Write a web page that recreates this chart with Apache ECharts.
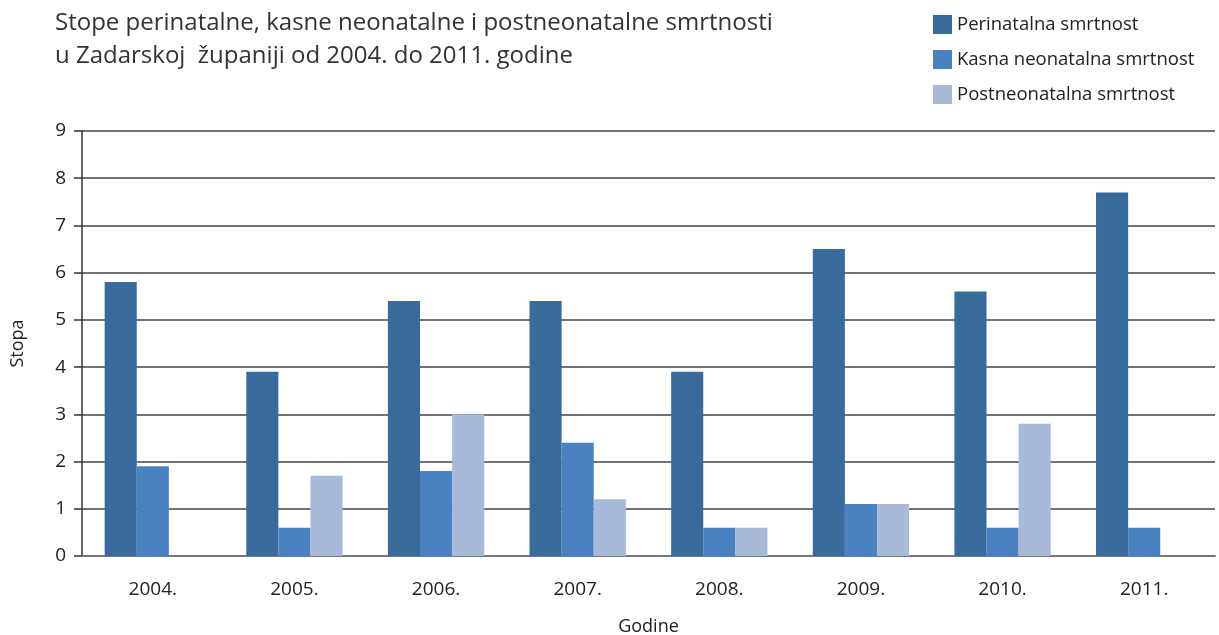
<!DOCTYPE html>
<html>
<head>
<meta charset="utf-8">
<script src="https://cdn.jsdelivr.net/npm/echarts@6/dist/echarts.min.js"></script>
<style>
  html, body { margin: 0; padding: 0; background: #fff; }
  #chart { width: 1219px; height: 635px; }
</style>
</head>
<body>
<div id="chart"></div>
<script>
// data
const godine = ["2004.", "2005.", "2006.", "2007.", "2008.", "2009.", "2010.", "2011."];
const perinatalna = [5.8, 3.9, 5.4, 5.4, 3.9, 6.5, 5.6, 7.7];
const kasnaNeonatalna = [1.9, 0.6, 1.8, 2.4, 0.6, 1.1, 0.6, 0.6];
const postneonatalna = [0, 1.7, 3.0, 1.2, 0.6, 1.1, 2.8, 0];
const seriesNames = ["Perinatalna smrtnost", "Kasna neonatalna smrtnost", "Postneonatalna smrtnost"];

let myChart = echarts.init(document.getElementById("chart"));
let option = {
  animation: false,
  title: {
    text: "Stope perinatalne, kasne neonatalne i postneonatalne smrtnosti\nu Zadarskoj  županiji od 2004. do 2011. godine",
    left: 50,
    top: 2,
    textStyle: {
      fontFamily: "Open Sans",
      fontWeight: "normal",
      fontSize: 24,
      lineHeight: 33,
      color: "#333"
    }
  },
  legend: {
    orient: "vertical",
    left: 928,
    top: 10,
    itemWidth: 19,
    itemHeight: 19,
    itemGap: 16,
    icon: "rect",
    textStyle: { fontFamily: "Open Sans", fontSize: 18.5, color: "#222", padding: [0, 0, 0, 0] },
    data: seriesNames
  },
  grid: { left: 82, right: 4, top: 131, bottom: 79, outerBoundsMode: "none" },
  xAxis: {
    type: "category",
    data: godine,
    name: "Godine",
    nameLocation: "middle",
    nameGap: 62,
    nameTextStyle: { fontFamily: "Open Sans", fontSize: 18, color: "#222" },
    axisLine: { lineStyle: { color: "#777", width: 2 } },
    axisTick: { length: 10, lineStyle: { color: "#333", width: 1.5 } },
    axisLabel: { fontFamily: "Open Sans", fontSize: 19, color: "#222", margin: 24 }
  },
  yAxis: {
    type: "value",
    min: 0,
    max: 9,
    interval: 1,
    name: "Stopa",
    nameLocation: "middle",
    nameGap: 55,
    nameTextStyle: { fontFamily: "Open Sans", fontSize: 18, color: "#222" },
    axisLine: { show: true, lineStyle: { color: "#333", width: 1.5 } },
    axisTick: { show: true, length: 8, inside: false, lineStyle: { color: "#333", width: 1.5 } },
    axisLabel: { fontFamily: "Open Sans", fontSize: 19, color: "#222", margin: 16 },
    splitLine: { lineStyle: { color: "#444", width: 1.5 } }
  },
  series: [
    { name: seriesNames[0], type: "bar", data: perinatalna, barGap: "0%", barCategoryGap: "32%", itemStyle: { color: "#386a9c" } },
    { name: seriesNames[1], type: "bar", data: kasnaNeonatalna, barGap: "0%", barCategoryGap: "32%", itemStyle: { color: "#4a81c1" } },
    { name: seriesNames[2], type: "bar", data: postneonatalna, barGap: "0%", barCategoryGap: "32%", itemStyle: { color: "#a9b9d9" } }
  ]
};
myChart.setOption(option);
</script>
</body>
</html>
